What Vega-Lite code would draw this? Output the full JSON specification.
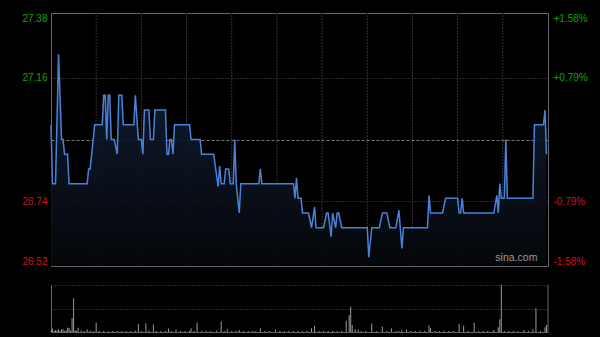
{
  "$schema": "https://vega.github.io/schema/vega-lite/v6.json",
  "background": "#000000",
  "autosize": {"type": "none"},
  "padding": {"left": 51, "top": 13, "right": 52, "bottom": 5},
  "width": 497,
  "height": 319,
  "config": {
    "font": "Liberation Sans",
    "view": {"stroke": null},
    "axisX": {"domain": true, "domainColor": "#666666", "labels": false, "ticks": false, "tickSize": 0, "grid": false, "title": null}
  },
  "datasets": {
    "price": [
      {"t":0,"p":27.00},{"t":1,"p":26.80},{"t":3,"p":26.80},{"t":5,"p":27.24},{"t":7,"p":26.95},{"t":8,"p":26.95},{"t":9,"p":26.90},{"t":11,"p":26.90},{"t":12,"p":26.80},{"t":24,"p":26.80},{"t":25,"p":26.85},{"t":26,"p":26.85},{"t":29,"p":27.00},{"t":34,"p":27.00},{"t":35,"p":27.10},{"t":36,"p":27.10},{"t":37,"p":26.95},{"t":38,"p":27.10},{"t":39,"p":27.10},{"t":40,"p":26.95},{"t":42,"p":26.95},{"t":44,"p":26.90},{"t":45,"p":27.10},{"t":47,"p":27.10},{"t":48,"p":27.00},{"t":55,"p":27.00},{"t":56,"p":27.10},{"t":58,"p":26.95},{"t":60,"p":26.95},{"t":61,"p":26.90},{"t":62,"p":27.05},{"t":65,"p":27.05},{"t":66,"p":26.95},{"t":68,"p":26.95},{"t":69,"p":27.05},{"t":76,"p":27.05},{"t":77,"p":26.90},{"t":78,"p":26.90},{"t":79,"p":26.95},{"t":80,"p":26.95},{"t":81,"p":26.90},{"t":82,"p":27.00},{"t":92,"p":27.00},{"t":93,"p":26.95},{"t":99,"p":26.95},{"t":100,"p":26.90},{"t":108,"p":26.90},{"t":111,"p":26.79},{"t":112,"p":26.86},{"t":113,"p":26.80},{"t":115,"p":26.80},{"t":116,"p":26.85},{"t":118,"p":26.85},{"t":119,"p":26.80},{"t":121,"p":26.80},{"t":122,"p":26.95},{"t":123,"p":26.80},{"t":125,"p":26.70},{"t":126,"p":26.80},{"t":138,"p":26.80},{"t":139,"p":26.85},{"t":140,"p":26.80},{"t":161,"p":26.80},{"t":162,"p":26.75},{"t":163,"p":26.82},{"t":164,"p":26.75},{"t":166,"p":26.75},{"t":167,"p":26.70},{"t":171,"p":26.70},{"t":173,"p":26.65},{"t":175,"p":26.72},{"t":176,"p":26.65},{"t":181,"p":26.65},{"t":183,"p":26.70},{"t":184,"p":26.70},{"t":186,"p":26.62},{"t":187,"p":26.70},{"t":189,"p":26.65},{"t":190,"p":26.70},{"t":191,"p":26.70},{"t":193,"p":26.65},{"t":210,"p":26.65},{"t":211,"p":26.55},{"t":213,"p":26.65},{"t":218,"p":26.65},{"t":220,"p":26.70},{"t":223,"p":26.70},{"t":225,"p":26.65},{"t":229,"p":26.65},{"t":231,"p":26.71},{"t":233,"p":26.58},{"t":234,"p":26.65},{"t":250,"p":26.65},{"t":251,"p":26.76},{"t":252,"p":26.70},{"t":260,"p":26.70},{"t":262,"p":26.75},{"t":270,"p":26.75},{"t":271,"p":26.70},{"t":272,"p":26.70},{"t":273,"p":26.75},{"t":274,"p":26.70},{"t":294,"p":26.70},{"t":296,"p":26.76},{"t":297,"p":26.70},{"t":298,"p":26.80},{"t":299,"p":26.75},{"t":301,"p":26.75},{"t":302,"p":26.95},{"t":303,"p":26.75},{"t":320,"p":26.75},{"t":321,"p":27.00},{"t":327,"p":27.00},{"t":328,"p":27.05},{"t":329,"p":26.90}
    ],
    "vol": [
      {"t":0,"v":1.2},{"t":1,"v":3.3},{"t":2,"v":1},{"t":3,"v":2},{"t":4,"v":1.5},{"t":5,"v":2.7},{"t":6,"v":1.2},{"t":7,"v":2.7},{"t":8,"v":2.7},{"t":9,"v":1},{"t":10,"v":1.5},{"t":11,"v":4.3},{"t":12,"v":4},{"t":13,"v":1.5},{"t":14,"v":13.7},{"t":15,"v":33.7},{"t":16,"v":1.5},{"t":17,"v":1},{"t":18,"v":4.3},{"t":20,"v":1.5},{"t":22,"v":1},{"t":24,"v":2.7},{"t":26,"v":1.5},{"t":28,"v":1},{"t":30,"v":9.3},{"t":32,"v":1},{"t":35,"v":1.2},{"t":38,"v":0.8},{"t":41,"v":1},{"t":44,"v":1},{"t":47,"v":0.8},{"t":50,"v":1},{"t":53,"v":0.8},{"t":56,"v":1.2},{"t":58,"v":8},{"t":60,"v":1},{"t":63,"v":8.7},{"t":65,"v":1.5},{"t":68,"v":7.7},{"t":70,"v":1},{"t":73,"v":1},{"t":76,"v":1.2},{"t":78,"v":3.3},{"t":80,"v":1},{"t":83,"v":2.5},{"t":86,"v":1},{"t":89,"v":1},{"t":92,"v":1.2},{"t":93,"v":3.7},{"t":95,"v":1},{"t":97,"v":9.3},{"t":100,"v":1},{"t":103,"v":1.2},{"t":106,"v":1},{"t":110,"v":1.5},{"t":113,"v":10.3},{"t":115,"v":1},{"t":117,"v":2.7},{"t":120,"v":1},{"t":123,"v":1},{"t":125,"v":2},{"t":128,"v":1},{"t":131,"v":1},{"t":134,"v":1.2},{"t":136,"v":1},{"t":139,"v":3.7},{"t":142,"v":1},{"t":145,"v":1},{"t":149,"v":2.5},{"t":152,"v":1},{"t":155,"v":1},{"t":158,"v":1.2},{"t":161,"v":1},{"t":164,"v":1},{"t":167,"v":1},{"t":170,"v":1.2},{"t":173,"v":3.7},{"t":175,"v":6.3},{"t":178,"v":1},{"t":181,"v":1.2},{"t":184,"v":1},{"t":187,"v":1},{"t":190,"v":1},{"t":193,"v":1.2},{"t":196,"v":11.3},{"t":198,"v":17},{"t":199,"v":25.3},{"t":200,"v":7},{"t":202,"v":2.7},{"t":204,"v":2.5},{"t":206,"v":1},{"t":209,"v":1.2},{"t":213,"v":8.7},{"t":216,"v":1},{"t":220,"v":5.3},{"t":223,"v":1},{"t":226,"v":3.7},{"t":229,"v":1},{"t":231,"v":1.2},{"t":233,"v":2},{"t":236,"v":2.7},{"t":239,"v":1},{"t":242,"v":1},{"t":245,"v":1.2},{"t":248,"v":1},{"t":251,"v":6.7},{"t":252,"v":3.7},{"t":255,"v":1},{"t":258,"v":1},{"t":261,"v":1.2},{"t":264,"v":1},{"t":267,"v":1},{"t":271,"v":8},{"t":274,"v":6.3},{"t":277,"v":1},{"t":281,"v":9.3},{"t":284,"v":1},{"t":287,"v":1},{"t":290,"v":1},{"t":294,"v":2},{"t":297,"v":4.7},{"t":298,"v":12.7},{"t":299,"v":47},{"t":301,"v":1},{"t":304,"v":1},{"t":307,"v":1.2},{"t":310,"v":1},{"t":314,"v":2},{"t":317,"v":1},{"t":320,"v":2.7},{"t":322,"v":23.7},{"t":325,"v":1},{"t":328,"v":4.7},{"t":329,"v":7}
    ],
    "grid": [
      {"g":30},{"g":60},{"g":90},{"g":120},{"g":150},{"g":180},{"g":210},{"g":240},{"g":270},{"g":300}
    ],
    "mark": [
      {"label": "sina.com", "t": 309, "p": 26.547}
    ]
  },
  "layer": [
    {
      "layer": [
        {
          "data": {"name": "grid"},
          "mark": {"type": "rule", "color": "#333333", "strokeDash": [2, 1], "strokeWidth": 1},
          "encoding": {
            "x": {"field": "g", "type": "quantitative", "scale": {"domain": [0, 330], "nice": false, "zero": false}, "title": null},
            "y": {"datum": 26.52, "type": "quantitative", "scale": {"domain": [26.52, 27.38], "range": [253, 0], "nice": false, "zero": false},
              "axis": {"orient": "left", "values": [26.52, 26.74, 26.95, 27.16, 27.38],
                "labelExpr": "abs(datum.value-26.95)<0.001 ? '' : format(datum.value,'.2f')",
                "labelColor": {"condition": {"test": "datum.value>26.95", "value": "#10a010"}, "value": "#d01414"},
                "labelFontSize": 10, "labelFont": "Liberation Sans", "labelFlush": true, "labelPadding": 4,
                "ticks": false, "tickSize": 0, "domain": true, "domainColor": "#666666",
                "grid": true,
                "gridColor": {"condition": [{"test": "datum.value<26.53 || datum.value>27.37", "value": "#666666"}, {"test": "abs(datum.value-26.95)<0.001", "value": "#777777"}], "value": "#555555"},
                "gridDash": {"condition": [{"test": "datum.value<26.53 || datum.value>27.37", "value": []}, {"test": "abs(datum.value-26.95)<0.001", "value": [3, 2]}], "value": [1, 2]},
                "title": null}},
            "y2": {"datum": 27.38}
          }
        },
        {
          "data": {"name": "price"},
          "mark": {"type": "area", "color": {"gradient": "linear", "x1": 0, "y1": 0, "x2": 0, "y2": 1, "stops": [{"offset": 0, "color": "#13213a"}, {"offset": 1, "color": "#05070b"}]}, "opacity": 0.9},
          "encoding": {
            "x": {"field": "t", "type": "quantitative", "scale": {"domain": [0, 330], "nice": false, "zero": false}, "title": null},
            "y": {"field": "p", "type": "quantitative"},
            "y2": {"datum": 26.52}
          }
        },
        {
          "data": {"name": "mark"},
          "mark": {"type": "text", "color": "#9a9a9a", "fontSize": 10.5, "font": "Liberation Sans", "align": "center", "baseline": "middle"},
          "encoding": {
            "x": {"field": "t", "type": "quantitative"},
            "y": {"field": "p", "type": "quantitative"},
            "text": {"field": "label"}
          }
        }
      ]
    },
    {
      "data": {"name": "price"},
      "mark": {"type": "line", "color": "#4a82d8", "strokeWidth": 1.5},
      "encoding": {
        "x": {"field": "t", "type": "quantitative", "scale": {"domain": [0, 330], "nice": false, "zero": false}, "title": null},
        "y": {"field": "p", "type": "quantitative", "scale": {"domain": [26.52, 27.38], "range": [253, 0], "nice": false, "zero": false},
          "axis": {"orient": "right", "values": [26.52, 26.74, 27.16, 27.38],
            "labelExpr": "datum.value>27.3 ? '+1.58%' : datum.value>27 ? '+0.79%' : datum.value>26.6 ? '-0.79%' : '-1.58%'",
            "labelColor": {"condition": {"test": "datum.value>26.95", "value": "#10a010"}, "value": "#d01414"},
            "labelFontSize": 10, "labelFont": "Liberation Sans", "labelFlush": true, "labelPadding": 5,
            "ticks": false, "tickSize": 0, "domain": true, "domainColor": "#666666", "grid": false, "title": null}}
      }
    },
    {
      "layer": [
        {
          "data": {"name": "vol"},
          "mark": {"type": "rule", "color": "#9a9a9a", "strokeWidth": 1},
          "encoding": {
            "x": {"field": "t", "type": "quantitative", "scale": {"domain": [0, 330], "nice": false, "zero": false}, "title": null},
            "y": {"field": "v", "type": "quantitative", "scale": {"domain": [0, 47], "range": [319, 272], "nice": false, "zero": false},
              "axis": {"orient": "left", "values": [23.5, 47], "labels": false, "ticks": false, "tickSize": 0, "domain": true, "domainColor": "#666666", "grid": true, "gridColor": "#555555", "gridDash": [1, 2], "title": null}},
            "y2": {"datum": 0}
          }
        },
        {
          "data": {"values": [{"t": 330, "a": 0, "b": 47}]},
          "mark": {"type": "rule", "color": "#666666", "strokeWidth": 1},
          "encoding": {
            "x": {"field": "t", "type": "quantitative"},
            "y": {"field": "a", "type": "quantitative"},
            "y2": {"field": "b"}
          }
        }
      ]
    }
  ],
  "resolve": {"scale": {"y": "independent"}, "axis": {"y": "independent"}}
}
